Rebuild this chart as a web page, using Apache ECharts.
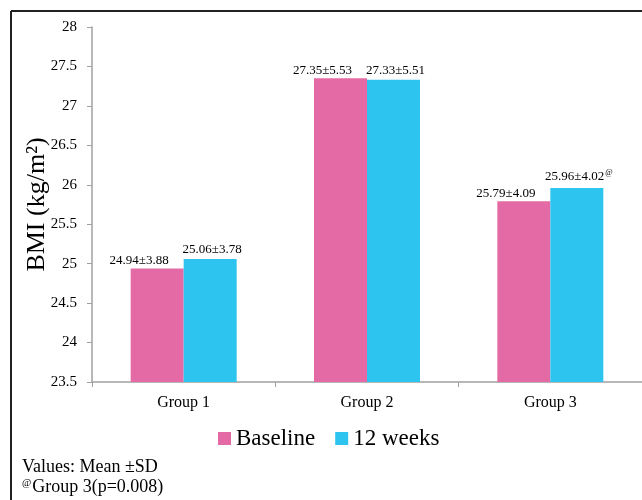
<!DOCTYPE html>
<html><head><meta charset="utf-8">
<script src="https://cdn.jsdelivr.net/npm/echarts@6/dist/echarts.min.js"></script>
<style>html,body{margin:0;padding:0;background:#fff}#c{width:642px;height:500px}</style>
</head><body><div id="c"></div>
<script>
const categories = ['Group 1', 'Group 2', 'Group 3'];
const baseline = [24.94, 27.35, 25.79];
const weeks12 = [25.06, 27.33, 25.96];
const baselineSD = ['3.88', '5.53', '4.09'];
const weeks12SD = ['3.78', '5.51', '4.02'];
const weeks12Mark = ['', '', '@'];
const yTicks = { min: 23.5, max: 28, interval: 0.5 };

const font = 'Liberation Serif';
const chart = echarts.init(document.getElementById('c'));
chart.setOption({
  animation: false,
  backgroundColor: '#fff',
  textStyle: { fontFamily: font },
  grid: { left: 92, top: 27, width: 555, height: 355, containLabel: false },
  legend: {
    data: ['Baseline', '12 weeks'],
    left: 213, top: 422,
    itemWidth: 13, itemHeight: 13, itemGap: 20,
    icon: 'rect',
    textStyle: { fontFamily: font, fontSize: 23, color: '#000' }
  },
  xAxis: {
    type: 'category', data: categories,
    axisLine: { lineStyle: { color: '#a0a0a0', width: 1.5 } },
    axisTick: { show: true, length: 5, lineStyle: { color: '#a0a0a0' } },
    axisLabel: { fontFamily: font, fontSize: 16, color: '#000', margin: 13 }
  },
  yAxis: {
    type: 'value', min: yTicks.min, max: yTicks.max, interval: yTicks.interval,
    name: 'BMI (kg/m²)', nameLocation: 'middle', nameGap: 42, nameMoveOverlap: false,
    nameTextStyle: { fontFamily: font, fontSize: 26, color: '#000' },
    splitLine: { show: false },
    axisLine: { show: true, lineStyle: { color: '#a0a0a0', width: 1.5 } },
    axisTick: { show: true, length: 5, lineStyle: { color: '#a0a0a0' } },
    axisLabel: { fontFamily: font, fontSize: 15, color: '#000', margin: 15,
      formatter: v => String(v) }
  },
  series: [
    {
      name: 'Baseline', type: 'bar', data: baseline, barWidth: 53, barGap: '0%',
      itemStyle: { color: '#E46AA5' },
      label: { show: true, position: 'top', distance: 1, offset: [-18, 0],
        fontFamily: font, fontSize: 13, color: '#000',
        formatter: p => p.value.toFixed(2) + '±' + baselineSD[p.dataIndex] }
    },
    {
      name: '12 weeks', type: 'bar', data: weeks12, barWidth: 53,
      itemStyle: { color: '#2EC4F0' },
      label: { show: true, position: 'top', distance: 3, offset: [2, 0],
        fontFamily: font, fontSize: 13, color: '#000',
        formatter: p => p.value.toFixed(2) + '±' + weeks12SD[p.dataIndex] +
          (weeks12Mark[p.dataIndex] ? '{sup|' + weeks12Mark[p.dataIndex] + '}' : ''),
        rich: { sup: { fontFamily: font, fontSize: 8, color: '#000', verticalAlign: 'top', padding: [0, 0, 8, 1] } }
      }
    }
  ],
  graphic: [
    { type: 'line', shape: { x1: 11, y1: 11, x2: 642, y2: 11 }, style: { stroke: '#222', lineWidth: 2 } },
    { type: 'line', shape: { x1: 11, y1: 11, x2: 11, y2: 500 }, style: { stroke: '#222', lineWidth: 2 } },
    { type: 'text', left: 22, top: 458, style: { text: 'Values: Mean ±SD', font: '18px "Liberation Serif"', fill: '#000' } },
    { type: 'text', left: 22, top: 478, style: {
        text: '{s|@}Group 3(p=0.008)', font: '18px "Liberation Serif"', fill: '#000',
        rich: { s: { font: '10px "Liberation Serif"', fill: '#000', padding: [0, 1, 8, 0] } } } }
  ]
});
</script></body></html>
